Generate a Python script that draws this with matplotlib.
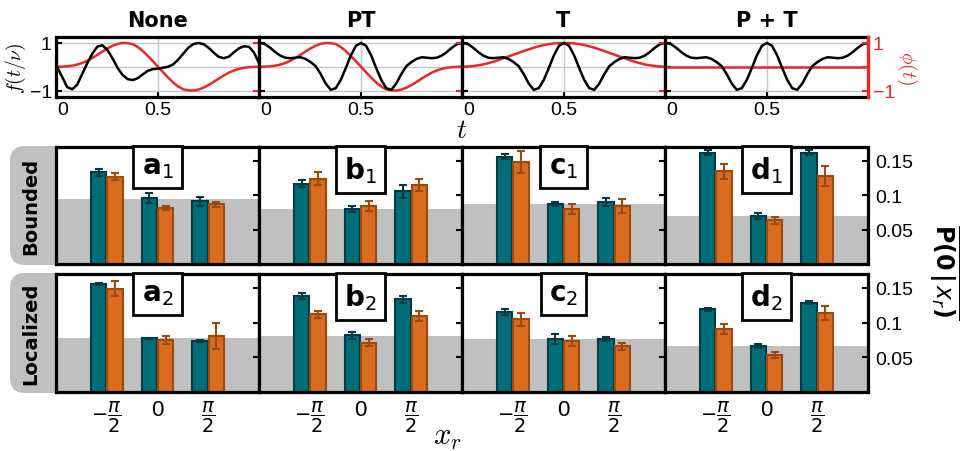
import numpy as np
import matplotlib.pyplot as plt
from matplotlib.patches import FancyBboxPatch

plt.rcParams["font.family"] = ["Liberation Sans", "DejaVu Sans"]
plt.rcParams["mathtext.fontset"] = "cm"

# ---- modulation curves (top row) ----
t_grid = np.linspace(0, 1, 41)

# black: free-evolution signal f(t/nu) with no transformation
f_none = [0.0, -0.42, -0.85, -0.95, -0.75, -0.3, 0.15, 0.55, 0.85, 0.9,
          0.7, 0.35, -0.05, -0.35, -0.52, -0.56, -0.48, -0.32, -0.17, -0.1,
          -0.08, -0.04, 0.0, 0.1, 0.3, 0.55, 0.8, 0.95, 1.0, 0.95,
          0.8, 0.6, 0.42, 0.36, 0.42, 0.6, 0.77, 0.86, 0.84, 0.6, 0.15]
# black: symmetric signal (PT, T, P + T)
f_sym = [1.0, 0.95, 0.8, 0.62, 0.47, 0.38, 0.36, 0.38, 0.4, 0.33,
         0.2, 0.03, -0.3, -0.7, -0.97, -0.9, -0.55, -0.05, 0.48, 0.88,
         1.0, 0.88, 0.48, -0.05, -0.55, -0.9, -0.97, -0.7, -0.3, 0.03,
         0.2, 0.33, 0.4, 0.38, 0.36, 0.38, 0.47, 0.62, 0.8, 0.95, 1.0]
# red: phase phi(t)
phi_odd = [0.0, 0.005, 0.02, 0.045, 0.09, 0.16, 0.25, 0.37, 0.5, 0.64,
           0.77, 0.88, 0.96, 1.0, 0.99, 0.95, 0.83, 0.66, 0.45, 0.23,
           0.0, -0.23, -0.45, -0.66, -0.83, -0.95, -0.99, -1.0, -0.96, -0.88,
           -0.77, -0.64, -0.5, -0.37, -0.25, -0.16, -0.09, -0.045, -0.02, -0.005, 0.0]
phi_bump = [0.0, 0.01, 0.03, 0.06, 0.1, 0.15, 0.21, 0.28, 0.36, 0.43,
            0.51, 0.58, 0.66, 0.73, 0.8, 0.86, 0.91, 0.95, 0.98, 0.995,
            1.0, 0.995, 0.98, 0.95, 0.91, 0.86, 0.8, 0.73, 0.66, 0.58,
            0.51, 0.43, 0.36, 0.28, 0.21, 0.15, 0.1, 0.06, 0.03, 0.01, 0.0]
phi_flat = [0.0] * 41

conditions = ["None", "PT", "T", "P + T"]
signals = [f_none, f_sym, f_sym, f_sym]
phases = [phi_odd, phi_odd, phi_bump, phi_flat]

# ---- bar data (bottom rows) ----
xr = np.array([-np.pi / 2, 0, np.pi / 2])
xr_labels = [r"$-\dfrac{\pi}{2}$", "0", r"$\dfrac{\pi}{2}$"]
row_names = ["Bounded", "Localized"]
tags = ["a", "b", "c", "d"]

bounded_teal = [[0.133, 0.0955, 0.091], [0.1164, 0.080, 0.1055],
                [0.156, 0.0876, 0.0906], [0.162, 0.0697, 0.162]]
bounded_teal_err = [[0.0045, 0.0075, 0.006], [0.005, 0.004, 0.01],
                    [0.004, 0.003, 0.006], [0.003, 0.004, 0.004]]
bounded_orange = [[0.127, 0.082, 0.0866], [0.124, 0.0846, 0.1145],
                  [0.148, 0.080, 0.0846], [0.135, 0.0637, 0.128]]
bounded_orange_err = [[0.005, 0.003, 0.004], [0.009, 0.007, 0.009],
                      [0.016, 0.007, 0.01], [0.011, 0.005, 0.014]]
bounded_base = [0.095, 0.0796, 0.087, 0.070]

localized_teal = [[0.1558, 0.0775, 0.0736], [0.138, 0.0818, 0.1338],
                  [0.115, 0.076, 0.076], [0.119, 0.0664, 0.1284]]
localized_teal_err = [[0.0015, 0.001, 0.001], [0.0045, 0.005, 0.005],
                      [0.004, 0.007, 0.003], [0.002, 0.003, 0.002]]
localized_orange = [[0.1486, 0.075, 0.0804], [0.112, 0.0707, 0.109],
                    [0.105, 0.0736, 0.066], [0.0905, 0.053, 0.114]]
localized_orange_err = [[0.011, 0.006, 0.019], [0.005, 0.005, 0.007],
                        [0.0095, 0.007, 0.005], [0.0068, 0.004, 0.0096]]
localized_base = [0.078, 0.0808, 0.076, 0.0664]

rows = [
    (bounded_teal, bounded_teal_err, bounded_orange, bounded_orange_err, bounded_base),
    (localized_teal, localized_teal_err, localized_orange, localized_orange_err, localized_base),
]

RED = "#e8282b"
TEAL, TEAL_DARK = "#006e79", "#023b44"
ORANGE, ORANGE_DARK = "#d96c1f", "#9e4a0e"
BAND = "#c0c0c0"

W, H = 960, 452
fig = plt.figure(figsize=(W / 100, H / 100), dpi=100)


def px_rect(x0, y0, x1, y1):
    # pixel box measured from the top-left corner -> figure fraction rect
    return [x0 / W, 1 - y1 / H, (x1 - x0) / W, (y1 - y0) / H]


edges = np.linspace(56, 868, 5)

# ── top row: signal and phase ──────────────────────
for i, name in enumerate(conditions):
    ax = fig.add_axes(px_rect(edges[i], 38, edges[i + 1], 97.5))
    ax.plot(t_grid, phases[i], color=RED, lw=1.8, zorder=2)
    ax.plot(t_grid, signals[i], color="black", lw=1.8, zorder=3)
    ax.set_xlim(-0.005, 1.0)
    ax.set_ylim(-1.25, 1.25)
    ax.set_xticks([0, 0.5])
    ax.set_xticklabels(["0", "0.5"], fontsize=14)
    ax.get_xticklabels()[0].set_ha("left")
    ax.set_yticks([-1, 0, 1])
    if i == 0:
        ax.set_yticklabels(["\u22121", "", "1"], fontsize=14)
    else:
        ax.set_yticklabels([])
    ax.grid(True, color="#c6c6c6", lw=1)
    ax.tick_params(direction="in", length=4, width=1.5, pad=3)
    for s in ax.spines.values():
        s.set_linewidth(2.3)
    ax.set_title(name, fontsize=15, fontweight="bold", family="DejaVu Sans", pad=8)

    ax2 = ax.twinx()
    ax2.set_ylim(-1.25, 1.25)
    ax2.set_yticks([-1, 0, 1])
    ax2.tick_params(axis="y", direction="in", length=4, width=1.5,
                    colors=RED, labelsize=14)
    for side in ["left", "top", "bottom"]:
        ax2.spines[side].set_visible(False)
    if i == 3:
        ax2.set_yticklabels(["\u22121", "", "1"])
        ax2.spines["right"].set_color(RED)
        ax2.spines["right"].set_linewidth(2.3)
    else:
        ax2.set_yticklabels([])
        ax2.spines["right"].set_visible(False)

fig.text(16 / W, 1 - 68 / H, r"$f(t/\nu)$", rotation=90, fontsize=14,
         ha="center", va="center")
fig.text(907 / W, 1 - 68 / H, r"$\phi(t)$", rotation=270, fontsize=14,
         color=RED, ha="center", va="center")
fig.text(462 / W, 1 - 131 / H, r"$t$", fontsize=20, ha="center", va="center")

# ── bar rows ───────────────────────────────────────
row_px = [(148, 265), (275, 393)]
for r, (teal, teal_err, orange, orange_err, base) in enumerate(rows):
    y0, y1 = row_px[r]

    tab = FancyBboxPatch((0.1, (H - y1 - 1) / 100), 0.7, (y1 - y0 + 2) / 100,
                         boxstyle="round,pad=0,rounding_size=0.15",
                         transform=fig.dpi_scale_trans, fc=BAND, ec="none",
                         zorder=-1)
    fig.add_artist(tab)
    fig.text(31 / W, 1 - (y0 + y1) / 2 / H, row_names[r], rotation=90,
             fontsize=14, fontweight="bold", family="DejaVu Sans",
             ha="center", va="center")

    for i in range(4):
        ax = fig.add_axes(px_rect(edges[i], y0, edges[i + 1], y1))
        ax.axhspan(0, base[i], color=BAND, lw=0, zorder=0)
        ax.bar(xr - 0.25, teal[i], width=0.48, color=TEAL,
               edgecolor=TEAL_DARK, linewidth=1.5, zorder=2)
        ax.bar(xr + 0.25, orange[i], width=0.48, color=ORANGE,
               edgecolor=ORANGE_DARK, linewidth=1.5, zorder=2)
        ax.errorbar(xr - 0.25, teal[i], yerr=teal_err[i], fmt="none",
                    ecolor=TEAL_DARK, elinewidth=1.5, capsize=3, capthick=1.5,
                    zorder=3)
        ax.errorbar(xr + 0.25, orange[i], yerr=orange_err[i], fmt="none",
                    ecolor=ORANGE_DARK, elinewidth=1.5, capsize=3, capthick=1.5,
                    zorder=3)
        ax.set_xlim(-np.pi, np.pi)
        ax.set_ylim(0, 0.17)

        ax.set_xticks(xr)
        if r == 1:
            ax.set_xticklabels(xr_labels, fontsize=14,
                               math_fontfamily="dejavusans")
            ax.get_xticklabels()[1].set_fontsize(16)
        else:
            ax.set_xticklabels([])
        ax.yaxis.tick_right()
        ax.set_yticks([0.05, 0.1, 0.15])
        if i == 3:
            ax.set_yticklabels(["0.05", "0.1", "0.15"], fontsize=14)
        else:
            ax.set_yticklabels([])
        ax.tick_params(direction="in", length=4, width=1.5, pad=5)
        for s in ax.spines.values():
            s.set_linewidth(2.3)

        ax.text(0.5, 0.94, r"$\mathbf{%s}_1$" % tags[i] if r == 0
                else r"$\mathbf{%s}_2$" % tags[i],
                transform=ax.transAxes, ha="center", va="top", fontsize=20,
                math_fontfamily="dejavusans", zorder=5,
                bbox=dict(boxstyle="square,pad=0.3", fc="white", ec="black",
                          lw=2))

fig.text(447 / W, 1 - 437 / H, r"$x_r$", fontsize=22, ha="center", va="center")
fig.text(944 / W, 1 - 272 / H, r"$\overline{\mathbf{P(0\,|\,}x_r\mathbf{)}}$",
         rotation=270, fontsize=17, math_fontfamily="dejavusans",
         ha="center", va="center")

fig.savefig("out.png", dpi=100)
